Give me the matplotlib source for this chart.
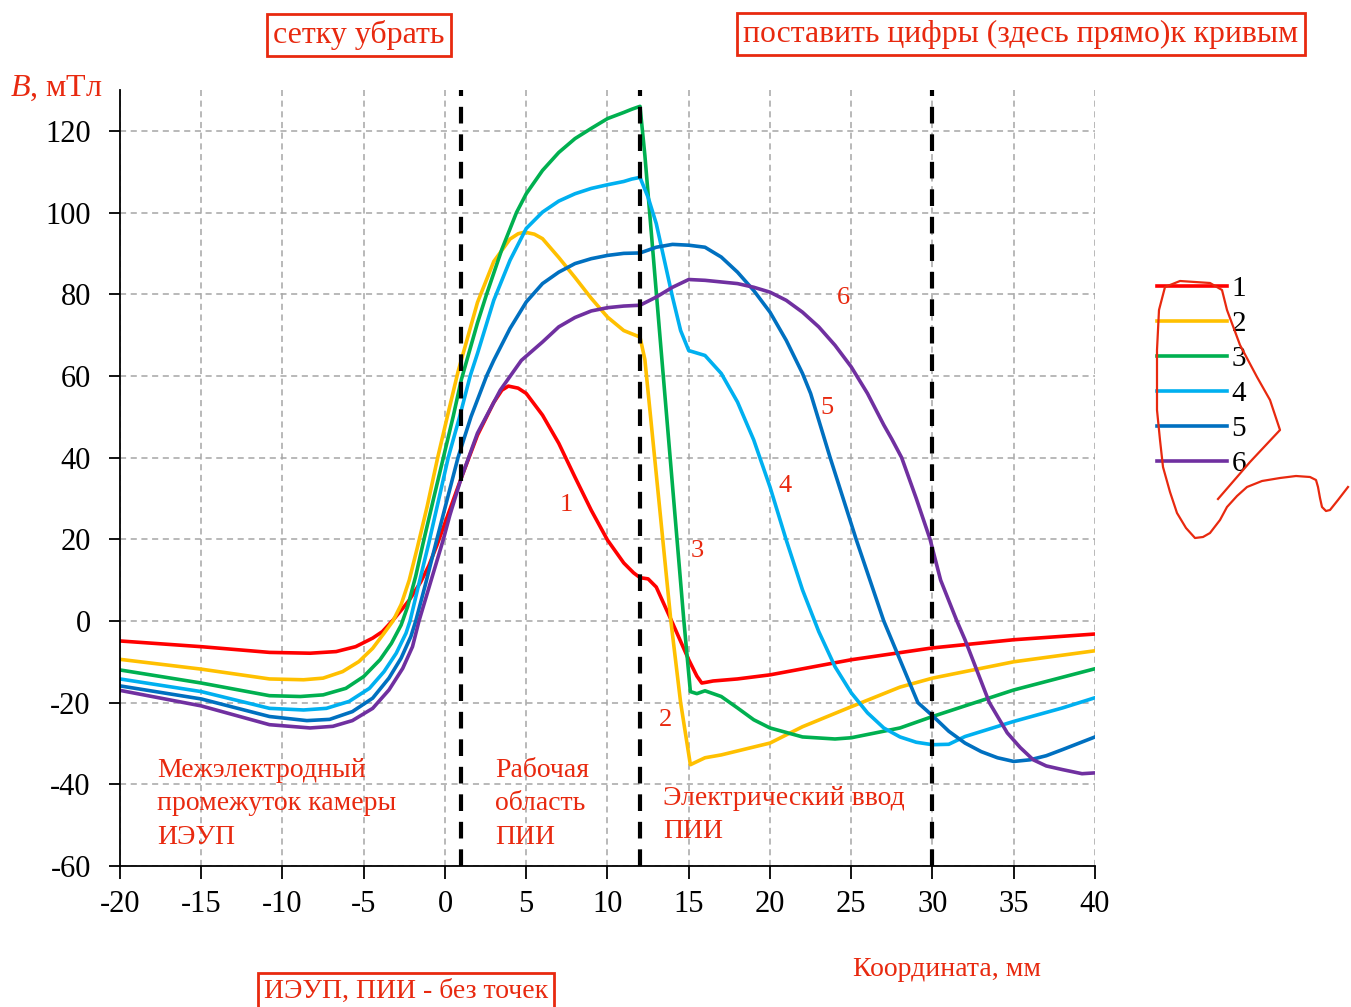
import matplotlib
matplotlib.use('Agg')
import matplotlib.pyplot as plt
from matplotlib.lines import Line2D

plt.rcParams['font.family'] = ['Liberation Serif', 'DejaVu Serif']
plt.rcParams['mathtext.fontset'] = 'custom'
plt.rcParams['mathtext.it'] = 'Liberation Serif:italic'
plt.rcParams['mathtext.rm'] = 'Liberation Serif'

RED_TXT = '#E8290F'

# curve 1 (red)
x1 = [-20, -15, -10.8, -8.3, -6.7, -5.5, -4.45, -3.85, -3.2, -2.6, -2.2, -1.5, -1, -0.5, 0, 0.5,
      1, 2, 3, 3.5, 3.9, 4.5, 5, 6, 7, 8, 9, 10, 11, 11.6, 12, 12.5, 13, 14, 15, 15.5, 15.8,
      16.1, 16.5, 18, 20, 25, 30, 35, 40]
y1 = [-4.9, -6.3, -7.7, -7.9, -7.5, -6.3, -4.2, -2.6, 0.2, 3.1, 5.1, 9.5, 13.5, 18.5, 24, 29.5,
      35, 45.5, 53.5, 56.5, 57.5, 57, 55.7, 50.4, 43.5, 35.2, 27.1, 19.8, 14.2, 11.8, 10.6, 10.3,
      8.3, -0.5, -9.5, -13.5, -15.2, -15, -14.7, -14.2, -13.2, -9.5, -6.6, -4.6, -3.2]

# curve 2 (yellow)
x2 = [-20, -15, -10.8, -8.7, -7.5, -6.3, -5.3, -4.45, -3.75, -3.2, -2.7, -2.2, -1.7, -1.1, -0.45,
      0.2, 0.8, 2, 3, 4, 4.5, 4.9, 5.5, 6, 7, 8, 9, 10, 11, 11.5, 12, 12.3, 13.4, 13.9, 14.5,
      15.1, 16, 17, 20, 22, 25, 28, 30, 35, 40]
y2 = [-9.4, -11.8, -14.2, -14.4, -14, -12.4, -9.95, -6.7, -3, 0, 4, 10, 18, 28, 40, 51, 61, 78,
      88, 93.5, 94.8, 95.2, 94.7, 93.6, 89, 84.1, 79, 74.4, 71.1, 70.3, 69.5, 64, 20, 0, -20,
      -35.2, -33.5, -32.8, -29.9, -25.9, -21, -16.2, -14, -10, -7.3]

# curve 3 (green)
x3 = [-20, -15, -10.8, -8.9, -7.5, -6.1, -5, -4, -3.3, -2.7, -2.3, -1.8, -1.35, -0.7, -0.1, 0.5,
      1, 2, 2.56, 3.5, 4.4, 5, 6, 7, 8, 9, 10, 11, 11.5, 12, 12.3, 13.2, 14.7, 15.1, 15.5, 16,
      17, 18, 19, 20, 22, 24, 25, 28, 30, 35, 40]
y3 = [-12, -15.2, -18.3, -18.5, -18.1, -16.5, -13.6, -9.5, -5.5, -1, 3.5, 11, 19, 30, 40, 50,
      59, 73, 80, 91, 100, 104.6, 110.3, 114.7, 118.1, 120.6, 123, 124.5, 125.3, 126, 114, 71,
      0, -17.3, -17.8, -17.1, -18.5, -21.3, -24.2, -26.2, -28.4, -28.9, -28.6, -26.2, -23.4,
      -16.9, -11.7]

# curve 4 (light blue)
x4 = [-20, -15, -10.8, -8.7, -7.3, -5.9, -4.65, -3.75, -3, -2.4, -2.15, -1.55, -1, -0.4, 0.2,
      0.9, 1.55, 2, 3, 4, 5, 6, 7, 8, 9, 10, 11, 11.5, 12, 12.5, 13, 14, 14.5, 15, 16, 17, 18,
      19, 20, 21, 22, 23, 24, 25, 26, 27, 28, 29, 30, 31, 32, 35, 38, 40]
y4 = [-14.2, -17.3, -21.4, -21.8, -21.4, -19.7, -16.5, -12.4, -7.9, -3, 0, 10, 19, 29.5, 40, 50,
      60, 65.5, 78.5, 88.3, 96.1, 100.1, 102.8, 104.6, 105.9, 106.8, 107.6, 108.2, 108.6, 103.7,
      97.3, 79.3, 71.1, 66.2, 65, 60.6, 53.6, 44.3, 32.8, 19.8, 7.6, -2.6, -11.2, -17.6, -22.5,
      -26.2, -28.4, -29.7, -30.3, -30.2, -28.3, -24.6, -21.3, -18.8]

# curve 5 (dark blue)
x5 = [-20, -15, -10.8, -8.5, -7.1, -5.7, -4.45, -3.45, -2.7, -2.1, -1.8, -1.2, -0.5, 0.15, 0.8,
      1.6, 2.56, 3, 4, 5, 6, 7, 8, 9, 10, 11, 12, 13, 14, 15, 16, 17, 18, 19, 20, 21, 22, 22.5,
      23.7, 25.3, 27, 29.1, 30, 31, 32, 33, 34, 35, 36, 37, 38, 40]
y5 = [-15.9, -19.1, -23.4, -24.4, -24.1, -22.2, -18.9, -14, -9.1, -3.8, 0, 9, 20, 30, 40, 50, 60,
      63.8, 71.6, 78.1, 82.6, 85.4, 87.5, 88.7, 89.5, 90, 90.1, 91.5, 92.2, 92, 91.5, 89.1, 85.4,
      80.9, 75.6, 68.7, 60.6, 55.7, 40, 20, 0, -20, -23.2, -27, -29.9, -32, -33.5, -34.4, -34,
      -33, -31.5, -28.4]

# curve 6 (purple)
x6 = [-20, -15, -10.8, -8.3, -6.9, -5.7, -4.45, -3.45, -2.6, -2, -1.6, -1, -0.1, 0.3, 1, 2, 3.4,
      4.7, 6, 7, 8, 9, 10, 11, 12, 13, 14, 15, 16, 17, 18, 19, 20, 21, 22, 23, 24, 25, 26, 27,
      27.5, 28.1, 29, 29.85, 30.5, 31.5, 32, 33.5, 34.6, 35.4, 36.2, 37, 38, 39.2, 40]
y6 = [-17, -20.8, -25.4, -26.2, -25.8, -24.4, -21.4, -16.9, -11.6, -6.3, 0, 8, 20, 25.9, 35, 46,
      56.5, 63.8, 68.3, 72, 74.3, 75.9, 76.7, 77.1, 77.3, 79.3, 81.7, 83.6, 83.4, 83, 82.6, 81.7,
      80.5, 78.5, 75.6, 72, 67.5, 62.2, 55.7, 48, 44.5, 40, 30, 20, 10, 0, -4.6, -20, -27.4, -31,
      -34, -35.5, -36.4, -37.4, -37.2]

series = [(x1, y1), (x2, y2), (x3, y3), (x4, y4), (x5, y5), (x6, y6)]
colors = ['#FF0000', '#FFC000', '#00B050', '#00B0F0', '#0070C0', '#7030A0']
names = ['1', '2', '3', '4', '5', '6']

# curve number labels placed next to curves
lab_x = [7.45, 13.6, 15.5, 20.9, 23.5, 24.55]
lab_y = [28.4, -24.2, 17.1, 33, 52.1, 79]

boundaries = [1, 12, 30]

fig = plt.figure(figsize=(13.51, 10.07), dpi=100)
ax = fig.add_axes([120 / 1351, 1 - 866 / 1007, 975 / 1351, 776 / 1007])

ax.grid(True, ls=(0, (4, 3)), color='#A6A6A6', lw=1.1)
ax.set_axisbelow(True)

for (xs, ys), c, n in zip(series, colors, names):
    ax.plot(xs, ys, color=c, lw=2.6, label=n, solid_joinstyle='round')

for b in boundaries:
    ax.axvline(b, color='black', lw=3, ls=(0, (4, 2.6)))

for n, lx, ly in zip(names, lab_x, lab_y):
    ax.text(lx, ly, n, color=RED_TXT, fontsize=19, ha='center', va='center')

ax.text(-17.7, -33.5, 'Межэлектродный\nпромежуток камеры\nИЭУП', color=RED_TXT, fontsize=20,
        ha='left', va='top', linespacing=1.45)
ax.text(3.1, -33.5, 'Рабочая\nобласть\nПИИ', color=RED_TXT, fontsize=20, ha='left',
        va='top', linespacing=1.45)
ax.text(13.4, -40.4, 'Электрический ввод\nПИИ', color=RED_TXT, fontsize=20, ha='left',
        va='top', linespacing=1.45)

ax.set_xlim(-20, 40)
ax.set_ylim(-60, 130)
ax.set_xticks(range(-20, 41, 5))
ax.set_yticks(range(-60, 121, 20))
ax.set_xticklabels([str(v) for v in range(-20, 41, 5)])
ax.set_yticklabels([str(v) for v in range(-60, 121, 20)])
ax.tick_params(axis='x', labelsize=22, length=9, width=1.3, pad=8)
ax.tick_params(axis='y', labelsize=22, length=8, width=1.3, pad=13)
for s in ['top', 'right']:
    ax.spines[s].set_visible(False)
for s in ['left', 'bottom']:
    ax.spines[s].set_linewidth(1.3)

fig.text(10 / 1351, 1 - 88 / 1007, '$B$, мТл', color=RED_TXT, fontsize=23, ha='left',
         va='center')
fig.text(853 / 1351, 1 - 970 / 1007, 'Координата, мм', color=RED_TXT, fontsize=20,
         ha='left', va='center')

box = dict(boxstyle='square,pad=0.2', fc='white', ec='#E8290F', lw=2)
fig.text(359 / 1351, 1 - 35 / 1007, 'сетку убрать', color=RED_TXT, fontsize=23,
         ha='center', va='center', bbox=box)
fig.text(1021 / 1351, 1 - 34 / 1007, 'поставить цифры (здесь прямо)к кривым', color=RED_TXT,
         fontsize=22.8, ha='center', va='center', bbox=box)
fig.text(406 / 1351, 1 - 991 / 1007, 'ИЭУП, ПИИ - без точек', color=RED_TXT, fontsize=20,
         ha='center', va='center', bbox=box)

ax.legend(loc='upper left', bbox_to_anchor=(1157 / 1351, 1 - 276 / 1007),
          bbox_transform=fig.transFigure, frameon=False, fontsize=21, handlelength=2.4,
          handletextpad=0.15, labelspacing=0.29, borderpad=0, borderaxespad=0)

# hand-drawn red scribble over the legend
sx = [1218, 1250, 1280, 1270, 1257, 1240, 1227, 1222, 1210, 1180, 1165, 1159, 1157, 1157, 1160,
      1163, 1170, 1177, 1186, 1195, 1203, 1210, 1220, 1227, 1237, 1247, 1262, 1280, 1296, 1310,
      1316, 1318, 1320, 1322, 1326, 1330, 1338, 1348]
sy = [499, 462, 430, 400, 377, 345, 310, 290, 283, 281, 287, 310, 350, 410, 440, 467, 492, 513,
      528, 538, 537, 533, 520, 507, 496, 487, 481, 478, 476, 477, 480, 487, 498, 507, 511, 510,
      500, 487]
fig.add_artist(Line2D([v / 1351 for v in sx], [1 - v / 1007 for v in sy],
                      transform=fig.transFigure, color='#E8290F', lw=1.6,
                      solid_joinstyle='round'))

fig.savefig('out.png', dpi=100)
